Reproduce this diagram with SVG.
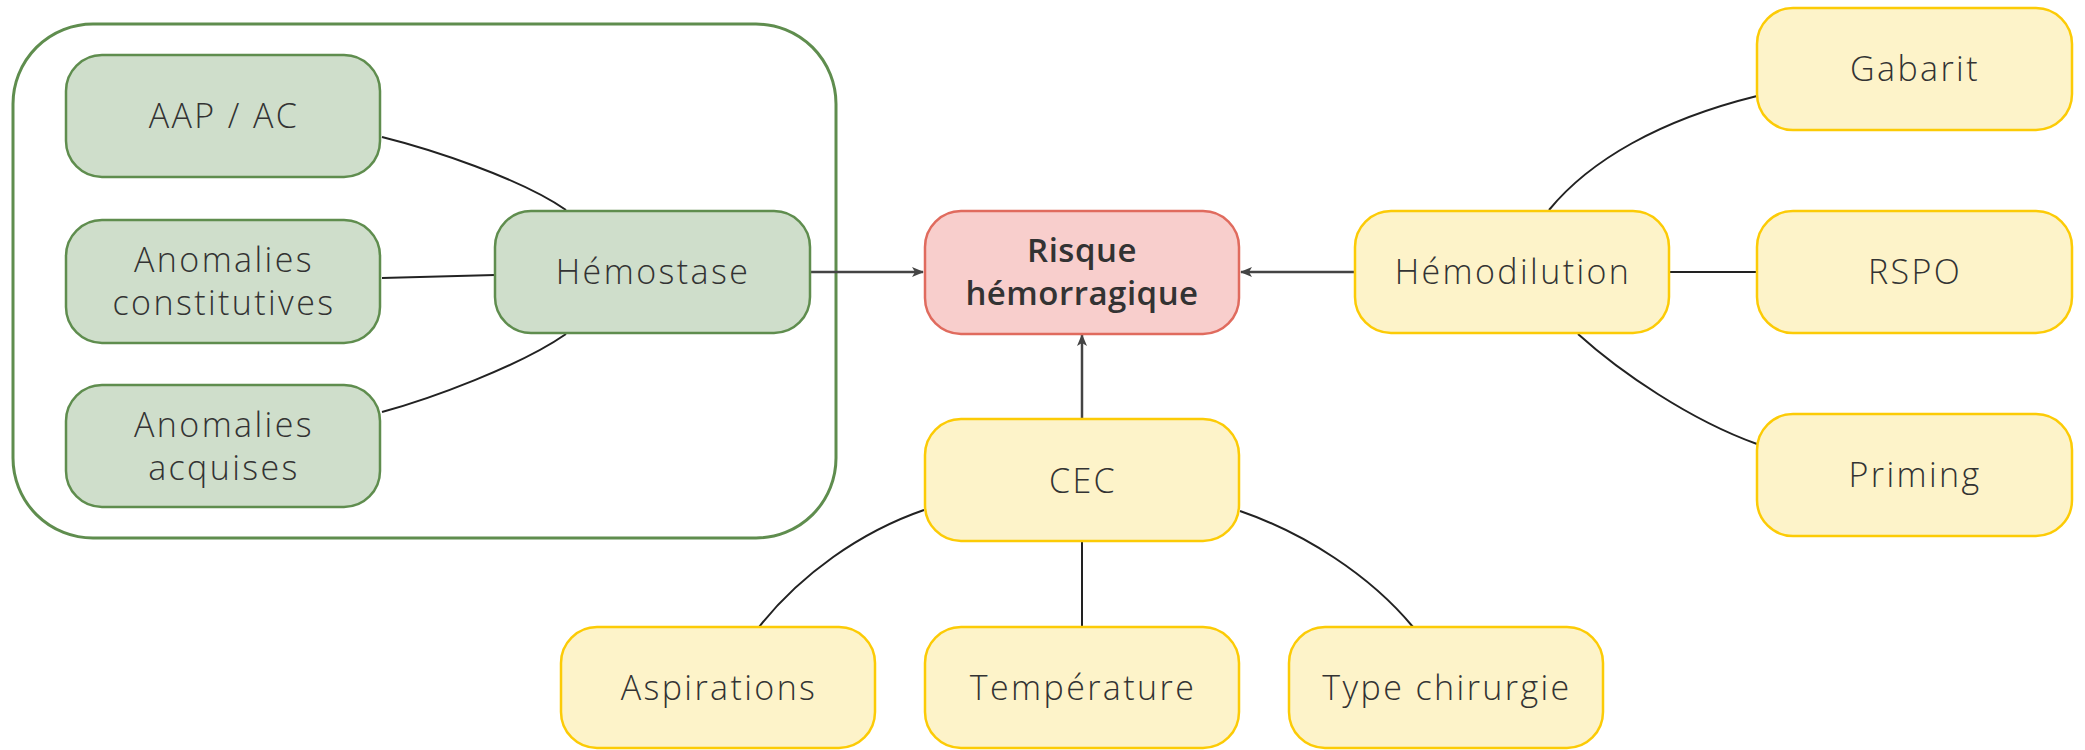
<svg xmlns="http://www.w3.org/2000/svg" width="2085" height="750" viewBox="0 0 2085 750">
  <defs>
    <marker id="arrow" viewBox="0 0 12 10" refX="11" refY="5" markerWidth="12" markerHeight="10" markerUnits="userSpaceOnUse" orient="auto">
      <path d="M0,0 L12,5 L0,10 L3,5 Z" fill="#444444"/>
    </marker>
    <style>
      .green { fill: #cfdecb; stroke: #5f8d4e; stroke-width: 2.5; }
      .yellow { fill: #fdf3c9; stroke: #fccb06; stroke-width: 2.5; }
      .red { fill: #f8cecc; stroke: #e06b5e; stroke-width: 2.5; }
      .group { fill: none; stroke: #5f8d4e; stroke-width: 3; }
      text { font-family: "Open Sans", "Liberation Sans", sans-serif; font-size: 34px; font-weight: 300; letter-spacing: 2.4px; fill: #333333; text-anchor: middle; }
      .bold { font-weight: 600; font-size: 33px; letter-spacing: 0.5px; }
      .link { fill: none; stroke: #222222; stroke-width: 2; }
      .arrow { fill: none; stroke: #444444; stroke-width: 2.5; marker-end: url(#arrow); }
    </style>
  </defs>

  <!-- haemostasis cluster frame -->
  <rect id="hemostase-group" class="group" x="13" y="24" width="823" height="514" rx="80" ry="80"/>

  <g id="connectors">
    <path class="link" d="M382,137 C430,149 520,178 566,210"/>
    <path class="link" d="M382,278 L495,275"/>
    <path class="link" d="M382,412 C430,399 520,366 566,334"/>
    <path class="arrow" d="M810,272 L923,272"/>
    <path class="arrow" d="M1355,272 L1241,272"/>
    <path class="arrow" d="M1082,419 L1082,335"/>
    <path class="link" d="M1549,210 C1590,160 1660,120 1757,96"/>
    <path class="link" d="M1669,272 L1757,272"/>
    <path class="link" d="M1578,334 C1620,372 1690,420 1757,444"/>
    <path class="link" d="M924,510 C860,532 800,575 759,627"/>
    <path class="link" d="M1082,541 L1082,627"/>
    <path class="link" d="M1240,511 C1304,533 1370,575 1413,627"/>
  </g>

  <g id="aap-ac">
    <rect class="green" x="66" y="55" width="314" height="122" rx="36"/>
    <text x="224" y="128">AAP / AC</text>
  </g>
  <g id="anomalies-constitutives">
    <rect class="green" x="66" y="220" width="314" height="123" rx="36"/>
    <text x="224" y="272">Anomalies</text>
    <text x="224" y="315">constitutives</text>
  </g>
  <g id="anomalies-acquises">
    <rect class="green" x="66" y="385" width="314" height="122" rx="36"/>
    <text x="224" y="437">Anomalies</text>
    <text x="224" y="480">acquises</text>
  </g>
  <g id="hemostase">
    <rect class="green" x="495" y="211" width="315" height="122" rx="36"/>
    <text x="653" y="284">Hémostase</text>
  </g>

  <g id="risque-hemorragique">
    <rect class="red" x="925" y="211" width="314" height="123" rx="36"/>
    <text class="bold" x="1082" y="262">Risque</text>
    <text class="bold" x="1082" y="305">hémorragique</text>
  </g>

  <g id="cec">
    <rect class="yellow" x="925" y="419" width="314" height="122" rx="36"/>
    <text x="1083" y="493">CEC</text>
  </g>
  <g id="hemodilution">
    <rect class="yellow" x="1355" y="211" width="314" height="122" rx="36"/>
    <text x="1513" y="284">Hémodilution</text>
  </g>

  <g id="gabarit">
    <rect class="yellow" x="1757" y="8" width="315" height="122" rx="36"/>
    <text x="1915" y="81">Gabarit</text>
  </g>
  <g id="rspo">
    <rect class="yellow" x="1757" y="211" width="315" height="122" rx="36"/>
    <text x="1915" y="284">RSPO</text>
  </g>
  <g id="priming">
    <rect class="yellow" x="1757" y="414" width="315" height="122" rx="36"/>
    <text x="1915" y="487">Priming</text>
  </g>

  <g id="aspirations">
    <rect class="yellow" x="561" y="627" width="314" height="121" rx="36"/>
    <text x="719" y="700">Aspirations</text>
  </g>
  <g id="temperature">
    <rect class="yellow" x="925" y="627" width="314" height="121" rx="36"/>
    <text x="1083" y="700">Température</text>
  </g>
  <g id="type-chirurgie">
    <rect class="yellow" x="1289" y="627" width="314" height="121" rx="36"/>
    <text x="1447" y="700">Type chirurgie</text>
  </g>
</svg>
